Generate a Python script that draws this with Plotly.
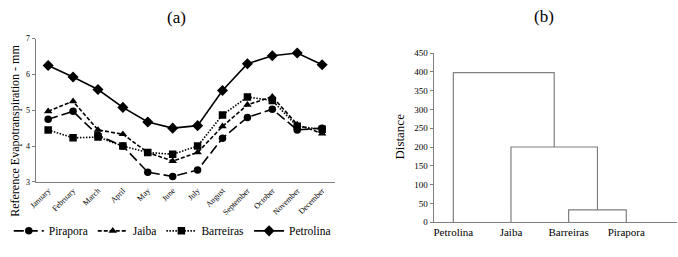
import plotly.graph_objects as go

months = ["January", "February", "March", "April", "May", "June", "July",
          "August", "September", "October", "November", "December"]
pirapora = [4.75, 4.97, 4.30, 4.00, 3.27, 3.15, 3.33, 4.22, 4.80, 5.03, 4.45, 4.50]
jaiba = [4.97, 5.25, 4.45, 4.33, 3.82, 3.58, 3.82, 4.55, 5.15, 5.38, 4.60, 4.35]
barreiras = [4.45, 4.23, 4.25, 4.00, 3.82, 3.77, 4.00, 4.87, 5.37, 5.27, 4.55, 4.47]
petrolina = [6.25, 5.93, 5.58, 5.08, 4.67, 4.50, 4.57, 5.55, 6.30, 6.52, 6.60, 6.27]

# dendrogram (panel b)
leaves = ["Petrolina", "Jaiba", "Barreiras", "Pirapora"]
merges = [("Barreiras", "Pirapora", 33), ("Jaiba", "C1", 200), ("Petrolina", "C2", 398)]

FONT = "Liberation Serif, Times New Roman, serif"
GRAY = "#7f7f7f"

fig = go.Figure()

series = [
    ("Pirapora", pirapora, "circle", "10px,4px"),
    ("Jaiba", jaiba, "triangle-up", "4px,2px"),
    ("Barreiras", barreiras, "square", "1.5px,1.5px"),
    ("Petrolina", petrolina, "diamond", "solid"),
]
for name, vals, sym, dash in series:
    fig.add_trace(go.Scatter(
        x=months, y=vals, name=name, mode="lines+markers",
        line=dict(color="black", width=1.6, dash=dash),
        marker=dict(symbol=sym, size=7.5 if sym != "diamond" else 8.5, color="black"),
        xaxis="x", yaxis="y"))

# build dendrogram segments from linkage
pos = {n: i for i, n in enumerate(leaves)}
height = {n: 0 for n in leaves}
dx, dy = [], []
for i, (a, b, h) in enumerate(merges):
    xa, xb = pos[a], pos[b]
    dx += [xa, xa, xb, xb, None]
    dy += [height[a], h, h, height[b], None]
    cname = "C%d" % (i + 1)
    pos[cname] = (xa + xb) / 2
    height[cname] = h
fig.add_trace(go.Scatter(x=dx, y=dy, mode="lines", showlegend=False,
                         line=dict(color=GRAY, width=1.2),
                         xaxis="x2", yaxis="y2", hoverinfo="skip"))

W, H = 678, 257
fig.update_layout(
    width=W, height=H, margin=dict(l=0, r=0, t=0, b=0),
    paper_bgcolor="white", plot_bgcolor="white",
    font=dict(family=FONT, color="black"),
    showlegend=True,
    legend=dict(orientation="h", x=167 / W, y=1 - 235 / H, xanchor="center",
                yanchor="middle", font=dict(size=11.5, family=FONT),
                bgcolor="rgba(0,0,0,0)", itemwidth=30, tracegroupgap=0),
    xaxis=dict(domain=[29 / W, 331 / W], anchor="y", type="category",
               range=[-0.5, 11.5], tickangle=-45, tickfont=dict(size=8),
               showline=True, linecolor=GRAY, linewidth=1, ticks="",
               showgrid=False, zeroline=False),
    yaxis=dict(domain=[1 - 184 / H, 1 - 35 / H], anchor="x", range=[3, 7],
               dtick=1, tickfont=dict(size=8), showline=True, linecolor=GRAY,
               linewidth=1, ticks="outside", ticklen=3, tickcolor=GRAY,
               showgrid=False, zeroline=False),
    xaxis2=dict(domain=[431 / W, 677 / W], anchor="y2", range=[-0.343, 3.88],
                tickvals=list(range(len(leaves))), ticktext=leaves,
                tickfont=dict(size=11), showline=True, linecolor=GRAY,
                linewidth=1, ticks="", showgrid=False, zeroline=False),
    yaxis2=dict(domain=[1 - 226 / H, 1 - 50 / H], anchor="x2", range=[0, 450],
                dtick=50, tickfont=dict(size=9), showline=True, linecolor=GRAY,
                linewidth=1, ticks="outside", ticklen=3, tickcolor=GRAY,
                showgrid=False, zeroline=False),
    annotations=[
        dict(text="(a)", x=171 / W, y=1 - 13 / H, xref="paper", yref="paper",
             showarrow=False, font=dict(size=17), xanchor="center", yanchor="middle"),
        dict(text="(b)", x=543 / W, y=1 - 12 / H, xref="paper", yref="paper",
             showarrow=False, font=dict(size=17), xanchor="center", yanchor="middle"),
        dict(text="Reference Evapotranspiration - mm", x=8 / W, y=1 - 131 / H,
             xref="paper", yref="paper", showarrow=False, textangle=-90,
             font=dict(size=12), xanchor="center", yanchor="middle"),
        dict(text="Distance", x=397 / W, y=1 - 137 / H, xref="paper", yref="paper",
             showarrow=False, textangle=-90, font=dict(size=13),
             xanchor="center", yanchor="middle"),
    ],
)

fig.write_html("out.html")
